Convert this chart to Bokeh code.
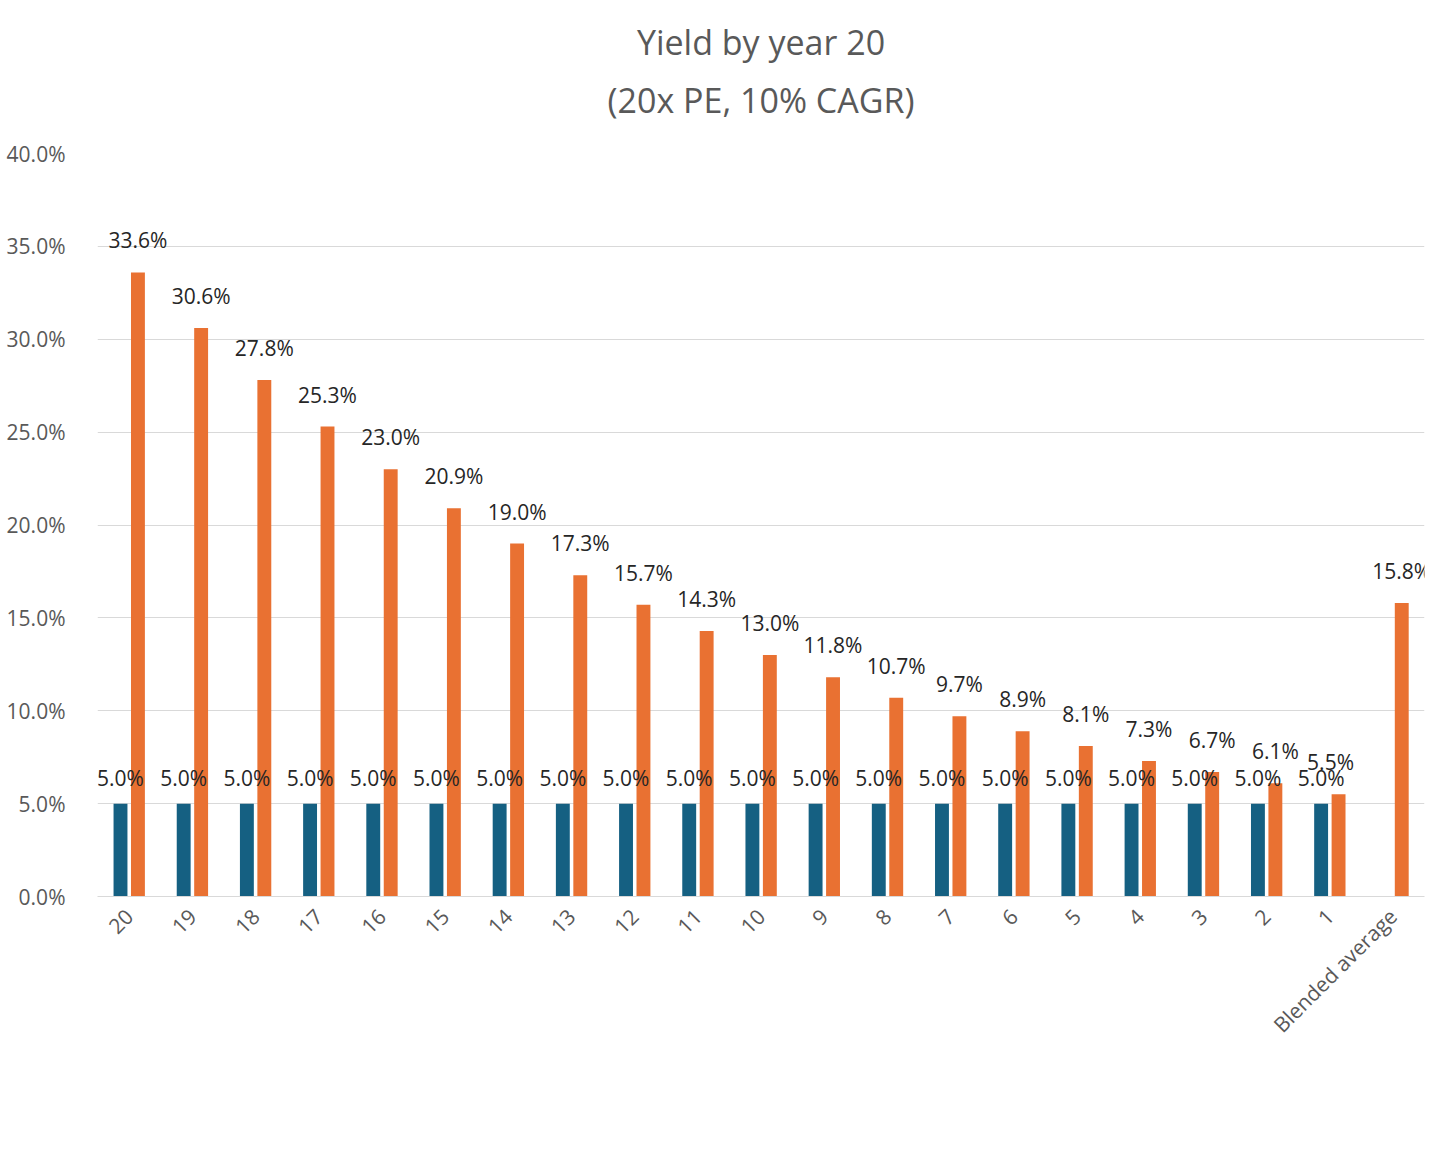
import math
from bokeh.plotting import figure
from bokeh.models import ColumnDataSource, LabelSet, Title, Legend, LegendItem, FixedTicker, CustomJSTickFormatter
from bokeh.transform import dodge
from bokeh.core.properties import value
from bokeh.embed import file_html
from bokeh.resources import INLINE

categories = [str(i) for i in range(20, 0, -1)] + ["Blended average"]
starting_yield = [5.0] * 20
yield_after = [33.6, 30.6, 27.8, 25.3, 23.0, 20.9, 19.0, 17.3, 15.7, 14.3, 13.0,
               11.8, 10.7, 9.7, 8.9, 8.1, 7.3, 6.7, 6.1, 5.5, 15.8]
y_ticks = [0, 5, 10, 15, 20, 25, 30, 35, 40]

BLUE = "#156082"
ORANGE = "#E97132"
FONT = "Open Sans"
TXT = "#595959"

p = figure(x_range=categories, y_range=(0, 40), frame_width=1327, frame_height=743,
           output_backend="svg", toolbar_location=None,
           min_border_left=97, min_border_right=16, min_border_top=153, min_border_bottom=249)
p.title = None
p.outline_line_color = None

src_b = ColumnDataSource(dict(x=categories[:20], y=starting_yield,
                              t=["%.1f%%" % v for v in starting_yield]))
xoff = [0] * 21
xoff[19] = -8
src_o = ColumnDataSource(dict(x=categories, y=yield_after,
                              t=["%.1f%%" % v for v in yield_after], xo=xoff))

rb = p.vbar(x=dodge("x", -0.136, range=p.x_range), top="y", width=0.22, source=src_b,
            color=BLUE, line_color=None)
ro = p.vbar(x=dodge("x", 0.14, range=p.x_range), top="y", width=0.22, source=src_o,
            color=ORANGE, line_color=None)

lab_b = LabelSet(x=dodge("x", -0.136, range=p.x_range), y="y", text="t", source=src_b,
                 text_align="center", text_baseline="bottom", y_offset=12,
                 text_font_size="21px", text_color="#262626", text_font=value(FONT))
lab_o = LabelSet(x=dodge("x", 0.14, range=p.x_range), y="y", text="t", source=src_o,
                 x_offset="xo", text_align="center", text_baseline="bottom", y_offset=18,
                 text_font_size="21px", text_color="#262626", text_font=value(FONT))
p.add_layout(lab_b)
p.add_layout(lab_o)

p.yaxis.ticker = FixedTicker(ticks=y_ticks)
p.yaxis.formatter = CustomJSTickFormatter(code="return tick.toFixed(1) + '%';")
p.yaxis.axis_line_color = None
p.yaxis.major_tick_line_color = None
p.yaxis.minor_tick_line_color = None
p.yaxis.major_label_text_font_size = "21px"
p.yaxis.major_label_text_color = TXT
p.yaxis.major_label_text_font = FONT
p.yaxis.major_label_standoff = 26

p.xaxis.axis_line_color = "#d9d9d9"
p.xaxis.major_tick_line_color = None
p.xaxis.minor_tick_line_color = None
p.xaxis.major_label_orientation = math.pi / 4
p.xaxis.major_label_text_font_size = "21px"
p.xaxis.major_label_text_color = TXT
p.xaxis.major_label_text_font = FONT
p.xaxis.major_label_standoff = 10
p.xgrid.grid_line_color = None
p.ygrid.grid_line_color = "#d9d9d9"

legend = Legend(items=[LegendItem(label="Starting Yield", renderers=[rb]),
                       LegendItem(label="Yield after 'x' years", renderers=[ro])],
                orientation="horizontal", location="center",
                label_text_font_size="22px", label_text_color=TXT, label_text_font=FONT,
                glyph_width=16, glyph_height=16, spacing=36, border_line_color=None,
                margin=10)
p.add_layout(legend, "below")

p.add_layout(Title(text=" ", text_font_size="12px"), "above")
p.add_layout(Title(text="(20x PE, 10% CAGR)", align="center", text_font_size="34px",
                   text_font_style="normal", text_color=TXT, text_font=FONT), "above")
p.add_layout(Title(text="Yield by year 20", align="center", text_font_size="34px",
                   text_font_style="normal", text_color=TXT, text_font=FONT), "above")

open("out.html", "w").write(file_html(p, INLINE))
